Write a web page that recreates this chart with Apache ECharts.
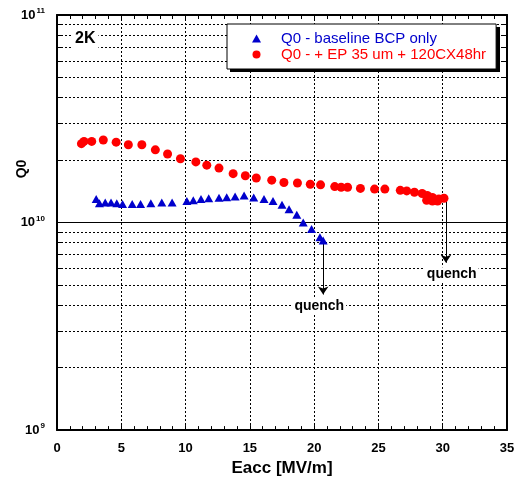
<!DOCTYPE html>
<html>
<head>
<meta charset="utf-8">
<title>Q0 vs Eacc</title>
<script src="https://cdn.jsdelivr.net/npm/echarts@6/dist/echarts.min.js"></script>
<style>
  html, body { margin: 0; padding: 0; background: #fff; }
  #chart { width: 519px; height: 482px; }
</style>
</head>
<body>
<div id="chart"></div>
<script>
// values: Eacc [MV/m] and Q0
const bcpEacc = [3.05, 3.3, 3.75, 4.2, 4.65, 5.1, 5.85, 6.5, 7.3, 8.15, 8.95, 10.1, 10.6, 11.2, 11.8, 12.6, 13.2, 13.85, 14.55, 15.3, 16.1, 16.8, 17.5, 18.05, 18.65, 19.15, 19.8, 20.45, 20.7]
const bcpQ0 = [1.30e10, 1.24e10, 1.25e10, 1.25e10, 1.24e10, 1.23e10, 1.23e10, 1.23e10, 1.24e10, 1.25e10, 1.25e10, 1.27e10, 1.28e10, 1.30e10, 1.31e10, 1.315e10, 1.325e10, 1.335e10, 1.35e10, 1.32e10, 1.30e10, 1.27e10, 1.22e10, 1.16e10, 1.09e10, 1.0e10, 9.3e9, 8.5e9, 8.2e9]

const epEacc = [1.9, 2.1, 2.7, 3.6, 4.6, 5.55, 6.6, 7.65, 8.6, 9.6, 10.8, 11.65, 12.6, 13.7, 14.65, 15.5, 16.7, 17.65, 18.7, 19.7, 20.5, 21.6, 22.1, 22.6, 23.6, 24.7, 25.5, 26.7, 27.2, 27.8, 28.4, 28.8, 29.2, 29.7, 30.1, 28.75, 29.2, 29.6]
const epQ0 = [2.40e10, 2.46e10, 2.46e10, 2.50e10, 2.44e10, 2.37e10, 2.37e10, 2.24e10, 2.14e10, 2.03e10, 1.96e10, 1.89e10, 1.83e10, 1.72e10, 1.68e10, 1.64e10, 1.60e10, 1.56e10, 1.55e10, 1.53e10, 1.52e10, 1.49e10, 1.48e10, 1.48e10, 1.46e10, 1.45e10, 1.45e10, 1.43e10, 1.42e10, 1.40e10, 1.38e10, 1.35e10, 1.32e10, 1.30e10, 1.31e10, 1.28e10, 1.27e10, 1.27e10]

// minor grid lines of the log axis
const yMinor = [2e9, 3e9, 4e9, 5e9, 6e9, 7e9, 8e9, 9e9, 2e10, 3e10, 4e10, 5e10, 6e10, 7e10, 8e10, 9e10]

// quench arrows: [Eacc, from Q0, to Q0] and label spots [Eacc, Q0]
const quenchArrows = [[20.7, 8.1e9, 4.5e9], [30.25, 1.27e10, 6.4e9]]
const quenchLabels = [[20.4, 3.96e9], [30.7, 5.64e9]]

const font = 'Liberation Sans, Arial, Helvetica, sans-serif'
const bcpName = 'Q0 - baseline BCP only'
const epName = 'Q0 - + EP 35 um + 120CX48hr'
const xMin = 0
const xMax = 35
const tickLen = 0.39

const pair = (xs, ys) => xs.map((x, i) => [x, ys[i]])

const minorTicks = []
yMinor.forEach(v => {
  minorTicks.push([{ coord: [xMin, v] }, { coord: [xMin + tickLen, v] }])
  minorTicks.push([{ coord: [xMax - tickLen, v] }, { coord: [xMax, v] }])
})
const arrows = quenchArrows.map(a => [
  { coord: [a[0], a[1]] },
  { coord: [a[0], a[2]], symbol: 'arrow', symbolSize: 8 }
])

const chart = echarts.init(document.getElementById('chart'))

const frameAxis = {
  axisLine: { show: true, onZero: false, lineStyle: { color: '#000', width: 2 } },
  axisTick: { show: true, inside: true, length: 5, lineStyle: { color: '#000' } }
}

chart.setOption({
  animation: false,
  backgroundColor: '#fff',
  grid: { left: 57, right: 12, top: 15, bottom: 50 },
  legend: {
    orient: 'vertical',
    left: 227,
    top: 24,
    z: 20,
    padding: [7, 10, 7, 25],
    itemGap: 1,
    itemWidth: 9,
    itemHeight: 8,
    backgroundColor: '#fff',
    borderColor: '#000',
    borderWidth: 1,
    textStyle: { fontFamily: font, fontSize: 15, lineHeight: 15, padding: [0, 0, 0, 15] },
    data: [
      { name: bcpName, icon: 'triangle', textStyle: { color: '#0000CC' } },
      { name: epName, icon: 'circle', textStyle: { color: '#FF0000' } }
    ]
  },
  xAxis: [{
    type: 'value',
    min: xMin,
    max: xMax,
    interval: 5,
    position: 'bottom',
    ...frameAxis,
    minorTick: { show: true, splitNumber: 5, length: 4, lineStyle: { color: '#000' } },
    axisLabel: { color: '#000', fontFamily: font, fontWeight: 'bold', fontSize: 13, margin: 12 },
    splitLine: { show: true, lineStyle: { color: '#000', width: 1, type: [2, 2] } },
    name: 'Eacc [MV/m]',
    nameLocation: 'middle',
    nameGap: 26,
    nameTextStyle: { color: '#000', fontFamily: font, fontWeight: 'bold', fontSize: 17 }
  }, {
    type: 'value',
    min: xMin,
    max: xMax,
    interval: 5,
    position: 'top',
    ...frameAxis,
    minorTick: { show: true, splitNumber: 5, length: 4, lineStyle: { color: '#000' } },
    axisLabel: { show: false },
    splitLine: { show: false }
  }],
  yAxis: [{
    type: 'log',
    logBase: 10,
    min: 1e9,
    max: 1e11,
    position: 'left',
    ...frameAxis,
    axisLabel: {
      margin: 12,
      formatter: v => '{b|10}{s|' + Math.round(Math.log10(v)) + '}',
      rich: {
        b: { color: '#000', fontFamily: font, fontWeight: 'bold', fontSize: 13, lineHeight: 16 },
        s: { color: '#000', fontFamily: font, fontWeight: 'bold', fontSize: 8, lineHeight: 9, verticalAlign: 'top', padding: [0, 0, 0, 1] }
      }
    },
    splitLine: { show: true, lineStyle: { color: '#000', width: 1, type: 'solid' } }
  }, {
    type: 'log',
    logBase: 10,
    min: 1e9,
    max: 1e11,
    position: 'right',
    ...frameAxis,
    axisLabel: { show: false },
    splitLine: { show: false }
  }],
  graphic: [{
    type: 'text',
    x: 22,
    y: 169,
    rotation: Math.PI / 2,
    style: { text: 'Q0', fill: '#000', font: 'bold 14px ' + font, align: 'center', verticalAlign: 'middle' }
  }, {
    type: 'text',
    x: 72,
    y: 29,
    z: 20,
    style: { text: '2K', fill: '#000', font: 'bold 16px ' + font, backgroundColor: '#fff', padding: [2, 3] }
  }, {
    // drop shadow of the legend box
    type: 'rect',
    z: 15,
    shape: { x: 230, y: 27, width: 270, height: 45 },
    style: { fill: '#000' }
  }],
  series: [{
    name: 'grid',
    type: 'line',
    data: [],
    z: 1,
    silent: true,
    markLine: {
      z: 1,
      silent: true,
      symbol: 'none',
      label: { show: false },
      lineStyle: { color: '#000', width: 1, type: [2, 2] },
      data: yMinor.map(v => ({ yAxis: v }))
    }
  }, {
    name: bcpName,
    type: 'scatter',
    symbol: 'triangle',
    symbolSize: [9, 8],
    itemStyle: { color: '#0000CC', opacity: 1 },
    z: 3,
    data: pair(bcpEacc, bcpQ0)
  }, {
    name: epName,
    type: 'scatter',
    symbol: 'circle',
    symbolSize: 9,
    itemStyle: { color: '#FF0000', opacity: 1 },
    z: 3,
    data: pair(epEacc, epQ0)
  }, {
    name: 'quench',
    type: 'scatter',
    symbolSize: 1,
    z: 4,
    silent: true,
    data: quenchLabels,
    itemStyle: { color: 'rgba(0,0,0,0)', opacity: 1 },
    label: {
      show: true,
      position: 'inside',
      formatter: 'quench',
      color: '#000',
      textBorderWidth: 0,
      fontFamily: font,
      fontWeight: 'bold',
      fontSize: 14,
      backgroundColor: '#fff',
      padding: [0, 2]
    },
    labelLayout: { hideOverlap: false },
    markLine: {
      z: 2,
      silent: true,
      symbol: 'none',
      label: { show: false },
      lineStyle: { color: '#000', width: 1, type: 'solid' },
      data: minorTicks.concat(arrows)
    }
  }]
})
</script>
</body>
</html>
